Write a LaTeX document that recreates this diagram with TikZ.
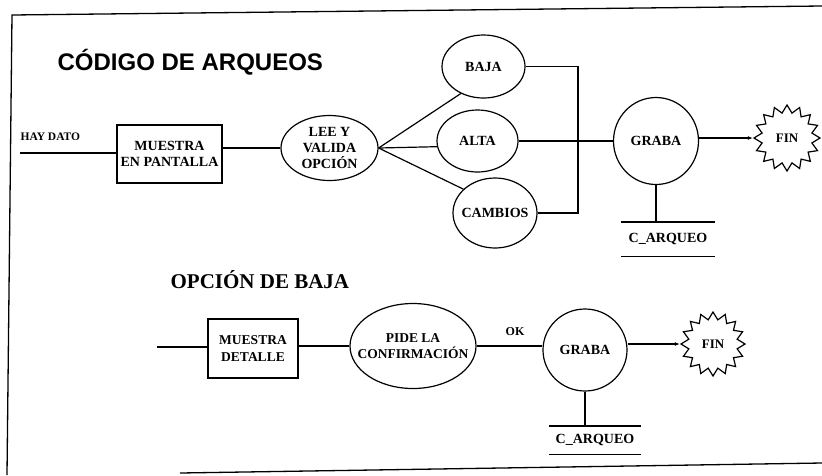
\documentclass[tikz,border=0pt]{standalone}
\usepackage{fontspec}
\setmainfont{Liberation Serif}
\newfontfamily\titlesans{Liberation Sans}
\usetikzlibrary{shapes.geometric,arrows.meta}
\begin{document}
\begin{tikzpicture}[x=1pt,y=-1pt,line width=1.2pt,
  lbl/.style={font=\fontsize{14}{16}\selectfont\bfseries,align=center,inner sep=0pt},
  lbls/.style={font=\fontsize{13.5}{17}\selectfont\bfseries,align=center,inner sep=0pt},
  proc/.style={draw,rectangle,lbl},
  bubble/.style={draw,ellipse,lbl},
  finstar/.style={draw,star,star points=16,star point ratio=1.3,lbl,
    font=\fontsize{13}{15}\selectfont\bfseries,minimum size=#1},
  store/.style={lbl,minimum height=#1},
  toend/.style={-{Latex[length=5pt,width=4pt]}},
  frameline/.style={line width=1.3pt}]
\useasboundingbox (0,0) rectangle (822,475);
% frame
\draw[frameline] (822,6) -- (12,15) -- (7,475);
\draw[frameline] (180,473) -- (822,463);
% titles
\node[font={\titlesans\fontsize{24}{28}\selectfont\bfseries},anchor=base west,inner sep=0pt] (t1) at (57,70) {CÓDIGO DE ARQUEOS};
\node[font={\fontsize{21}{24}\selectfont\bfseries},anchor=base west,inner sep=0pt] (t2) at (170,288) {OPCIÓN DE BAJA};
% upper flow
\node[lbl,font=\fontsize{11.5}{13}\selectfont\bfseries,anchor=west] (hay) at (20,137) {HAY DATO};
\coordinate (hayin) at (20,153);
\node[proc,minimum width=105pt,minimum height=58pt] (m1) at (169.5,154) {MUESTRA\\EN PANTALLA};
\node[bubble,minimum width=97pt,minimum height=65pt] (lee) at (329.5,148) {LEE Y\\VALIDA\\OPCIÓN};
\node[bubble,minimum width=83pt,minimum height=63pt] (baja) at (483.5,66.5) {BAJA};
\node[bubble,minimum width=81pt,minimum height=62pt] (alta) at (477.5,141) {ALTA};
\node[bubble,minimum width=84pt,minimum height=70pt,inner xsep=-6pt] (cambios) at (495,213) {CAMBIOS};
\node[bubble,minimum width=85pt,minimum height=87pt] (graba1) at (656,141) {GRABA};
\node[finstar=66pt] (fin1) at (787,138) {FIN};
\node[store=33pt,minimum width=92pt] (st1) at (668,239) {C\_ARQUEO};
\coordinate (bus) at (578,140);
\draw (hayin) -- (hayin -| m1.west);
\draw (m1.east |- lee.west) -- (lee.west);
\draw (lee.east) -- (baja.230);
\draw (lee.east) -- (alta.188);
\draw (lee.east) -- (cambios.143);
\draw (baja.east) -- (baja.east -| bus) -- (bus |- cambios.east) -- (cambios.east);
\draw (alta.east) -- (graba1.west);
\draw[toend] (graba1.east |- fin1.west) -- (fin1.west);
\draw (graba1.south) -- (graba1.south |- st1.north);
\draw (st1.north west) -- (st1.north east);
\draw (st1.south west) -- (st1.south east);
% lower flow
\coordinate (in2) at (157,347);
\node[proc,lbls,minimum width=90pt,minimum height=59pt] (m2) at (253,348.5) {MUESTRA\\DETALLE};
\node[bubble,lbls,font=\fontsize{13.5}{16}\selectfont\bfseries,minimum width=126pt,minimum height=85pt,inner xsep=-13pt] (pide) at (413,346) {PIDE LA\\CONFIRMACIÓN};
\node[bubble,minimum width=84pt,minimum height=82pt] (graba2) at (585,350) {GRABA};
\node[finstar=64pt] (fin2) at (713,344) {FIN};
\node[store=27pt,minimum width=90pt] (st2) at (595,440) {C\_ARQUEO};
\node[lbl,font=\fontsize{12}{14}\selectfont\bfseries] (ok) at (515,332) {OK};
\draw (in2) -- (in2 -| m2.west);
\draw (m2.east |- pide.west) -- (pide.west);
\draw (pide.east) -- (pide.east -| graba2.west);
\draw[toend] (graba2.east |- fin2.west) -- (fin2.west);
\draw (graba2.south) -- (graba2.south |- st2.north);
\draw (st2.north west) -- (st2.north east);
\draw (st2.south west) -- (st2.south east);
\end{tikzpicture}
\end{document}
